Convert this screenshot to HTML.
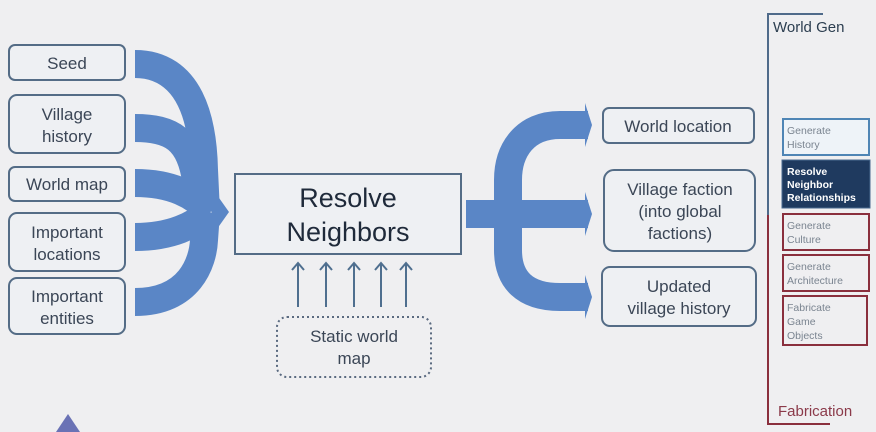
<!DOCTYPE html>
<html><head><meta charset="utf-8"><style>
body{margin:0;background:#efeff1;}
svg{display:block}
text{font-family:"Liberation Sans",sans-serif;}
</style></head><body>
<svg width="876" height="432" viewBox="0 0 876 432" xmlns="http://www.w3.org/2000/svg">
<rect width="876" height="432" fill="#efeff1"/>
<g fill="none" stroke="#5a86c6" stroke-width="28">
<path d="M135,64 C190,64 203,120 204,170 L206,212"/>
<path d="M135,128 C172,128 190,140 196,180 L207,212"/>
<path d="M135,183 C172,183 194,195 210,212"/>
<path d="M135,237 C172,237 194,225 210,212"/>
<path d="M135,302 C190,302 203,262 204,240 L206,212"/>
</g>
<polygon points="212,188 229,212 212,236" fill="#5a86c6"/>
<g fill="none" stroke="#5a86c6" stroke-width="28">
<path d="M466,214 L508,214"/>
<path d="M588,125 L560,125 C525,125 508,150 508,180 L508,250 C508,280 525,297 560,297 L588,297"/>
<path d="M505,214 L588,214"/>
</g>
<polygon points="585,103 592,125 585,147" fill="#5a86c6"/>
<polygon points="585,192 592,214 585,236" fill="#5a86c6"/>
<polygon points="585,275 592,297 585,319" fill="#5a86c6"/>
<g fill="#eef0f3" stroke="#546c86" stroke-width="2">
<rect x="9" y="45" width="116" height="35" rx="6"/>
<rect x="9" y="95" width="116" height="58" rx="8"/>
<rect x="9" y="167" width="116" height="34" rx="6"/>
<rect x="9" y="213" width="116" height="58" rx="8"/>
<rect x="9" y="278" width="116" height="56" rx="8"/>
<rect x="603" y="108" width="151" height="35" rx="6"/>
<rect x="604" y="170" width="151" height="81" rx="10"/>
<rect x="602" y="267" width="154" height="59" rx="8"/>
<rect x="235" y="174" width="226" height="80"/>
</g>
<g fill="#3b4656" font-size="17" text-anchor="middle">
<text x="67" y="69">Seed</text>
<text x="67" y="120">Village</text><text x="67" y="142">history</text>
<text x="67" y="190">World map</text>
<text x="67" y="238">Important</text><text x="67" y="260">locations</text>
<text x="67" y="302">Important</text><text x="67" y="324">entities</text>
<text x="678" y="132">World location</text>
<text x="680" y="195">Village faction</text><text x="680" y="217">(into global</text><text x="680" y="239">factions)</text>
<text x="679" y="292">Updated</text><text x="679" y="314">village history</text>
<text x="354" y="342">Static world</text><text x="354" y="364">map</text>
</g>
<text x="348" y="207" font-size="27" fill="#1f2a3a" text-anchor="middle">Resolve</text>
<text x="348" y="241" font-size="27" fill="#1f2a3a" text-anchor="middle">Neighbors</text>
<g stroke="#4f6f8f" stroke-width="2" fill="none">
<path d="M298,307V264M292,270L298,263L304,270"/>
<path d="M326,307V264M320,270L326,263L332,270"/>
<path d="M354,307V264M348,270L354,263L360,270"/>
<path d="M381,307V264M375,270L381,263L387,270"/>
<path d="M406,307V264M400,270L406,263L412,270"/>
</g>
<rect x="277" y="317" width="154" height="60" rx="10" fill="none" stroke="#5a6a80" stroke-width="2" stroke-dasharray="2,3"/>
<path d="M823,14H768V215" fill="none" stroke="#4f6a8a" stroke-width="2"/>
<path d="M768,215V424H830" fill="none" stroke="#8a2f3d" stroke-width="2"/>
<text x="773" y="32" font-size="15" fill="#2c3e50">World Gen</text>
<text x="778" y="416" font-size="15" fill="#8b3a4a">Fabrication</text>
<rect x="783" y="119" width="86" height="36" fill="#eef3f8" stroke="#4f85b5" stroke-width="2"/>
<rect x="782" y="160" width="88" height="48" fill="#1f3a5f" stroke="#4a6a8f" stroke-width="1"/>
<g fill="#efeff1" stroke="#8a2f3d" stroke-width="2">
<rect x="783" y="214" width="86" height="36"/>
<rect x="783" y="255" width="86" height="36"/>
<rect x="783" y="296" width="84" height="49"/>
</g>
<g font-size="10.5" fill="#7a8490">
<text x="787" y="134">Generate</text><text x="787" y="148">History</text>
<text x="787" y="229">Generate</text><text x="787" y="243">Culture</text>
<text x="787" y="270">Generate</text><text x="787" y="284">Architecture</text>
<text x="787" y="311">Fabricate</text><text x="787" y="325">Game</text><text x="787" y="339">Objects</text>
</g>
<g font-size="10.5" fill="#ffffff" font-weight="bold">
<text x="787" y="175">Resolve</text><text x="787" y="188">Neighbor</text><text x="787" y="201">Relationships</text>
</g>
<polygon points="68,414 56,432 80,432" fill="#6a72b5"/>
</svg>
</body></html>
